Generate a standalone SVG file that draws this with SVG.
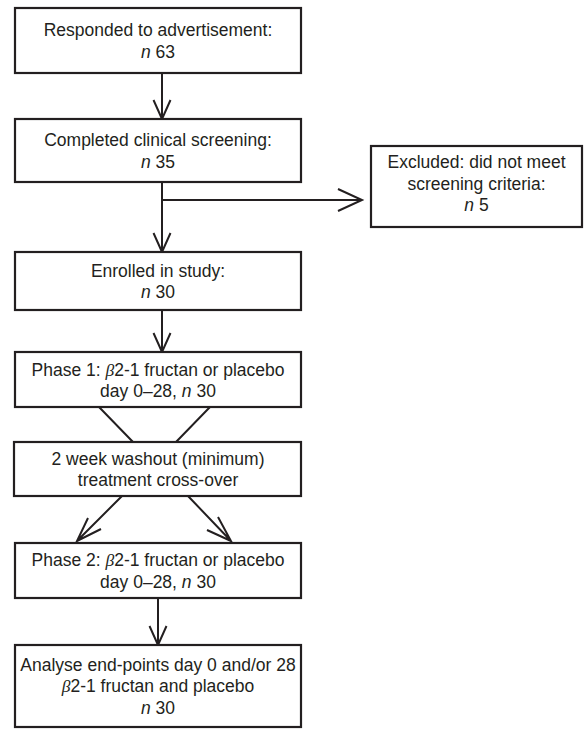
<svg xmlns="http://www.w3.org/2000/svg" width="588" height="729" viewBox="0 0 588 729">
<style>
.box{fill:#fff;stroke:#231f20;stroke-width:2.2}
.t{font-family:"Liberation Sans",Arial,sans-serif;font-size:17.5px;fill:#231f20;text-anchor:middle}
.i{font-style:italic}
.b{font-family:"Liberation Serif","Times New Roman",serif;font-style:italic}
.c{fill:none;stroke:#231f20;stroke-width:2;stroke-linejoin:miter}
</style>
<rect width="588" height="729" fill="#fff"/>
<g id="connectors">
<path class="c" d="M162,73 V119 M153.5,100 L162,119 L170.5,100"/>
<path class="c" d="M162,182 V252 M153.5,233 L162,252 L170.5,233"/>
<path class="c" d="M162,200 H362 M338,189 L362,200 L338,211"/>
<path class="c" d="M162,310 V352 M153.5,333 L162,352 L170.5,333"/>
<path class="c" d="M99,407 L133,442 M210,407 L176,442"/>
<path class="c" d="M122,496 L77,541 M88,518 L77,541 L101,529"/>
<path class="c" d="M188,496 L231,541 M218,517 L231,541 L207,530"/>
<path class="c" d="M158,598 V645 M149.5,626 L158,645 L166.5,626"/>
</g>
<g id="n1">
<rect class="box" x="15" y="8" width="286" height="65"/>
<text class="t" x="158" y="36">Responded to advertisement:</text>
<text class="t" x="158" y="57.5"><tspan class="i">n</tspan> 63</text>
</g>
<g id="n2">
<rect class="box" x="15" y="119" width="286" height="63"/>
<text class="t" x="158" y="146">Completed clinical screening:</text>
<text class="t" x="158" y="167.5"><tspan class="i">n</tspan> 35</text>
</g>
<g id="n3">
<rect class="box" x="371" y="146" width="211" height="81"/>
<text class="t" x="476.5" y="168">Excluded: did not meet</text>
<text class="t" x="476.5" y="189.5">screening criteria:</text>
<text class="t" x="476.5" y="211"><tspan class="i">n</tspan> 5</text>
</g>
<g id="n4">
<rect class="box" x="15" y="252" width="286" height="58"/>
<text class="t" x="158" y="276.5">Enrolled in study:</text>
<text class="t" x="158" y="298"><tspan class="i">n</tspan> 30</text>
</g>
<g id="n5">
<rect class="box" x="15" y="352" width="286" height="55"/>
<text class="t" x="158" y="375.5">Phase 1: <tspan class="b">β</tspan>2-1 fructan or placebo</text>
<text class="t" x="158" y="397">day 0–28, <tspan class="i">n</tspan> 30</text>
</g>
<g id="n6">
<rect class="box" x="14" y="442" width="287" height="54"/>
<text class="t" x="158" y="464.5">2 week washout (minimum)</text>
<text class="t" x="158" y="486">treatment cross-over</text>
</g>
<g id="n7">
<rect class="box" x="15" y="543" width="286" height="55"/>
<text class="t" x="158" y="566">Phase 2: <tspan class="b">β</tspan>2-1 fructan or placebo</text>
<text class="t" x="158" y="587.5">day 0–28, <tspan class="i">n</tspan> 30</text>
</g>
<g id="n8">
<rect class="box" x="15" y="645" width="286" height="82"/>
<text class="t" x="158" y="670.5">Analyse end-points day 0 and/or 28</text>
<text class="t" x="158" y="692"><tspan class="b">β</tspan>2-1 fructan and placebo</text>
<text class="t" x="158" y="713.5"><tspan class="i">n</tspan> 30</text>
</g>
</svg>
